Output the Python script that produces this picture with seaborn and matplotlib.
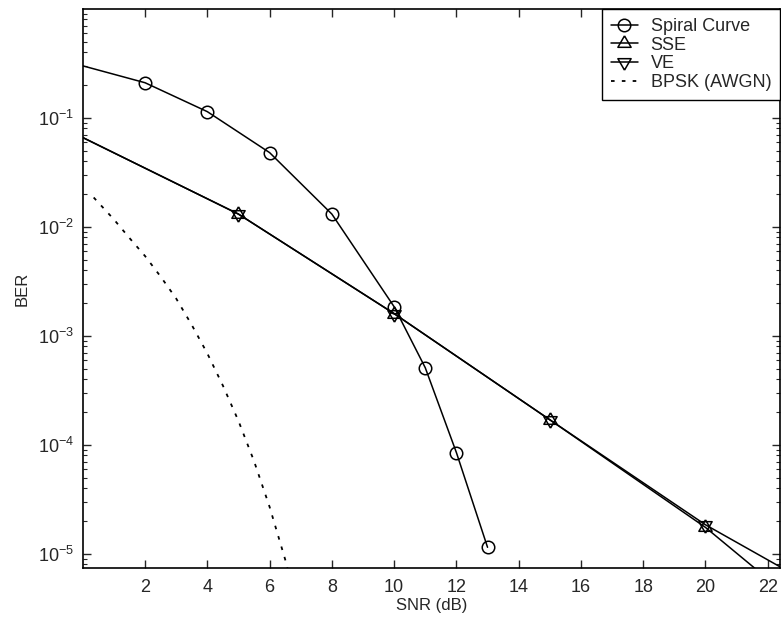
import numpy as np
import pandas as pd
import matplotlib
matplotlib.use("Agg")
import matplotlib.pyplot as plt
import seaborn as sns

# Spiral curve
spiral_snr = [0, 2, 4, 6, 8, 10, 11, 12, 13]
spiral_ber = [0.30, 0.21, 0.114, 0.048, 0.0131, 1.85e-3, 5.1e-4, 8.5e-5, 1.15e-5]

# SSE / VE (nearly identical up to 20 dB)
eq_snr = [0, 5, 10, 15, 20, 25]
sse_ber = [0.066, 0.0131, 1.6e-3, 1.7e-4, 1.75e-5, 1.15e-6]
ve_ber = [0.066, 0.0131, 1.6e-3, 1.7e-4, 1.85e-5, 2.9e-6]

# BPSK (AWGN) reference
bpsk_snr = [0.35, 1.0, 1.5, 2.0, 2.5, 3.0, 3.5, 4.0, 4.5, 5.0, 5.5, 6.0, 6.5, 6.6]
bpsk_ber = [1.86e-2, 1.17e-2, 7.9e-3, 5.4e-3, 3.5e-3, 2.2e-3, 1.26e-3, 6.9e-4,
            3.5e-4, 1.66e-4, 7.1e-5, 2.7e-5, 8.9e-6, 6.9e-6]

x_ticks = [2, 4, 6, 8, 10, 12, 14, 16, 18, 20, 22]

sns.set_style("ticks")
plt.rcParams['font.family'] = ['Liberation Sans', 'DejaVu Sans']
plt.rcParams['mathtext.fontset'] = 'custom'
plt.rcParams['mathtext.rm'] = 'Liberation Sans'
plt.rcParams['mathtext.it'] = 'Liberation Sans'

# triangles centred on their centroid so that ^ and v overlap as a star
tri_up = [(0, 1), (-0.866, -0.5), (0.866, -0.5), (0, 1)]
tri_down = [(0, -1), (-0.866, 0.5), (0.866, 0.5), (0, -1)]

fig = plt.figure(figsize=(7.81, 6.32), dpi=100)
ax = fig.add_axes([0.106, 0.101, 0.893, 0.885])

sns.lineplot(x=spiral_snr, y=spiral_ber, ax=ax, color='k', lw=1.1,
             marker='o', ms=9, mfc='none', mec='k', mew=1.1,
             markevery=list(range(1, len(spiral_snr))), label='Spiral Curve')
sns.lineplot(x=eq_snr, y=sse_ber, ax=ax, color='k', lw=1.1,
             marker=tri_up, ms=11, mfc='none', mec='k', mew=1.1,
             markevery=[1, 2, 3, 4], label='SSE')
sns.lineplot(x=eq_snr, y=ve_ber, ax=ax, color='k', lw=1.1,
             marker=tri_down, ms=11, mfc='none', mec='k', mew=1.1,
             markevery=[1, 2, 3, 4], label='VE')
sns.lineplot(x=bpsk_snr, y=bpsk_ber, ax=ax, color='k', lw=1.3,
             linestyle=(0, (2, 4)), label='BPSK (AWGN)')

ax.set_yscale('log')
ax.set_xlim(0, 22.4)
ax.set_ylim(7.4e-6, 1.0)
ax.set_xticks(x_ticks)
ax.set_yticks([1e-1, 1e-2, 1e-3, 1e-4, 1e-5])
ax.set_yticklabels([r'10$^{-1}$', r'10$^{-2}$', r'10$^{-3}$', r'10$^{-4}$', r'10$^{-5}$'])
ax.tick_params(which='both', direction='in', top=True, right=True, labelsize=13)
ax.tick_params(axis='x', pad=8)
ax.tick_params(axis='y', pad=6)
ax.tick_params(which='major', length=6, width=1)
ax.tick_params(which='minor', length=3, width=0.8)
for s in ax.spines.values():
    s.set_linewidth(1.2)
    s.set_color('k')

ax.set_xlabel('SNR (dB)', fontsize=12, labelpad=1)
ax.set_ylabel('BER', fontsize=12, labelpad=6)

leg = ax.legend(loc='upper right', borderaxespad=0, fancybox=False,
                framealpha=1, edgecolor='k', fontsize=13, handlelength=1.5,
                labelspacing=0.1, handletextpad=0.7, borderpad=0.5)
leg.get_frame().set_linewidth(1.0)

fig.savefig('out.png', dpi=100)
